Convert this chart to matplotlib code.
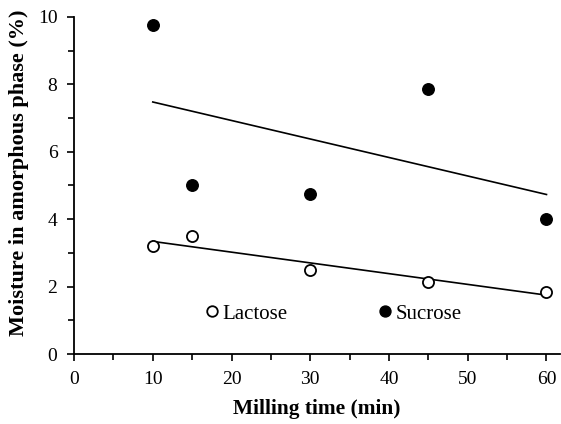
import numpy as np
import matplotlib
matplotlib.use("Agg")
import matplotlib.pyplot as plt
from matplotlib.ticker import MultipleLocator

plt.rcParams['font.family'] = ['Liberation Serif', 'DejaVu Serif']

# milling time (min) and moisture content in the amorphous phase (%)
milling_time = [10, 15, 30, 45, 60]
lactose = [3.2, 3.5, 2.5, 2.15, 1.85]
sucrose = [9.75, 5.0, 4.75, 7.85, 4.0]

fig = plt.figure(figsize=(5.61, 4.24), dpi=100)
ax = fig.add_axes([0.132, 0.165, 0.866, 0.795])

x = np.array(milling_time, dtype=float)
xs = np.array([x.min(), x.max()])

# linear trend lines
for y in (lactose, sucrose):
    k, b = np.polyfit(x, y, 1)
    ax.plot(xs, k * xs + b, color='black', lw=1.2, zorder=2)

ax.plot(x, lactose, 'o', ms=8, mfc='white', mec='black', mew=1.3,
        label='Lactose', zorder=3)
ax.plot(x, sucrose, 'o', ms=8.3, mfc='black', mec='black',
        label='Sucrose', zorder=3)

ax.set_xlim(0, 61.7)
ax.set_ylim(0, 10)
ax.xaxis.set_major_locator(MultipleLocator(10))
ax.xaxis.set_minor_locator(MultipleLocator(5))
ax.yaxis.set_major_locator(MultipleLocator(2))
ax.yaxis.set_minor_locator(MultipleLocator(1))
ax.tick_params(which='both', direction='out', width=1.2, labelsize=14, colors='black')
ax.tick_params(which='major', length=5, pad=7)
ax.tick_params(which='minor', length=4)

for s in ('top', 'right'):
    ax.spines[s].set_visible(False)
for s in ('left', 'bottom'):
    ax.spines[s].set_linewidth(1.3)

ax.set_xlabel('Milling time (min)', fontsize=15.4, fontweight='bold', labelpad=8)
ax.set_ylabel('Moisture in amorphous phase (%)', fontsize=16, fontweight='bold',
              labelpad=6, y=0.537)

ax.legend(loc='center left', bbox_to_anchor=(0.271, 0.119), ncol=2, frameon=False,
          fontsize=15, borderpad=0, borderaxespad=0, handlelength=0.6,
          handletextpad=0.2, columnspacing=4.4, markerscale=0.95)

fig.savefig('out.png', dpi=100)
